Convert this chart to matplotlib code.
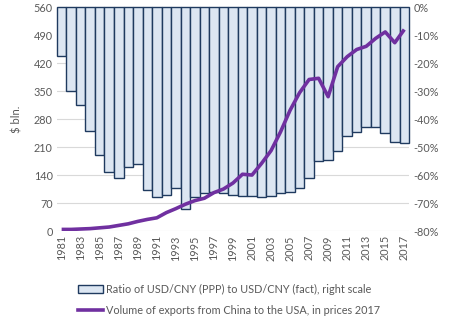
import numpy as np
import matplotlib
matplotlib.use("Agg")
import matplotlib.pyplot as plt
from matplotlib.patches import Patch
from matplotlib.lines import Line2D

years = list(range(1981, 2018))
# ratio of USD/CNY (PPP) to USD/CNY (fact), %, right scale
ratio = [-17.6, -29.8, -34.9, -44.2, -52.7, -58.8, -61.0, -57.3, -56.0, -65.2,
         -67.7, -67.0, -64.5, -72.0, -67.7, -66.3, -66.1, -66.5, -67.3, -67.6,
         -67.6, -68.0, -67.6, -66.3, -66.0, -64.5, -61.0, -54.9, -54.5, -51.3,
         -46.0, -44.5, -42.7, -43.0, -44.9, -48.1, -48.5]
# volume of exports from China to the USA, $ bln, prices 2017
exports = [4, 4, 5, 6, 8, 10, 14, 18, 24, 29,
           33, 46, 56, 67, 76, 82, 96, 105, 120, 142,
           140, 169, 201, 248, 302, 346, 379, 382, 336, 411,
           436, 454, 462, 482, 498, 471, 504]

plt.rcParams['font.family'] = ['Lato', 'DejaVu Sans']
gray = "#595959"

fig = plt.figure(figsize=(4.55, 3.24), dpi=100)
ax = fig.add_axes([0.125, 0.287, 0.774, 0.691])
ax2 = ax.twinx()

bars = ax2.bar(years, ratio, width=1.0, color="#DCE6F2", edgecolor="#1F3A5F", linewidth=1.0)
for b in bars:
    b.set_clip_on(False)
ax2.set_ylim(-80, 0)
ax2.set_yticks(np.arange(-80, 1, 10))
ax2.set_yticklabels([f"{v}%" for v in range(-80, 1, 10)])
ax2.yaxis.grid(True, color="#D9D9D9", linewidth=0.8)
ax2.set_axisbelow(True)

ax.plot(years, exports, color="#7030A0", linewidth=2.6, solid_capstyle="butt")
ax.set_ylim(0, 560)
ax.set_yticks(np.arange(0, 561, 70))
ax.set_xlim(1980.5, 2017.5)
ax.set_xticks(years[::2])
ax.set_xticklabels([str(y) for y in years[::2]], rotation=90)
ax.set_ylabel("$ bln.", color=gray, fontsize=8, labelpad=8)

ax.set_zorder(ax2.get_zorder() + 1)
ax.patch.set_visible(False)

for a in (ax, ax2):
    for s in a.spines.values():
        s.set_visible(False)
    a.tick_params(length=0, labelsize=7.8, labelcolor=gray, pad=3)

handles = [Patch(facecolor="#DCE6F2", edgecolor="#1F3A5F", linewidth=1.0),
           Line2D([], [], color="#7030A0", linewidth=2.6)]
labels = ["Ratio of USD/CNY (PPP) to USD/CNY (fact), right scale",
          "Volume of exports from China to the USA, in prices 2017"]
leg = fig.legend(handles, labels, loc="upper left", bbox_to_anchor=(0.163, 0.138),
                 frameon=False, fontsize=7.8, handlelength=2.3, handletextpad=0.2,
                 labelspacing=0.95, borderaxespad=0)
for t in leg.get_texts():
    t.set_color(gray)

fig.savefig("out.png", dpi=100)
